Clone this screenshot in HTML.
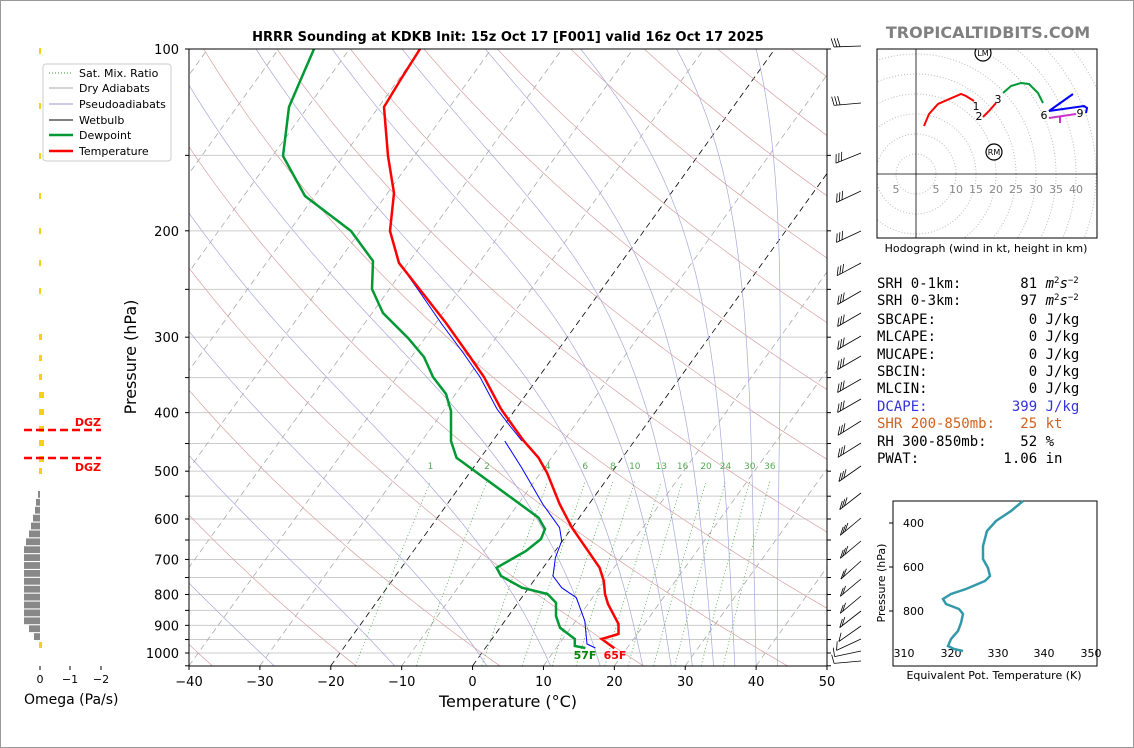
<!DOCTYPE html>
<html><head><meta charset="utf-8"><style>
body{margin:0;background:#fff;}
#w{position:relative;width:1132px;height:746px;border:1px solid #999;overflow:hidden;font-family:"DejaVu Sans","Liberation Sans",sans-serif;}
svg text{font-family:"DejaVu Sans","Liberation Sans",sans-serif;}
svg .mono text{font-family:"DejaVu Sans Mono","Liberation Mono",monospace;font-size:14px;}
</style></head><body><div id="w">
<svg id="s" width="1134" height="748" xmlns="http://www.w3.org/2000/svg">
<defs><clipPath id="cp"><rect x="188" y="48" width="638" height="617"/></clipPath>
<clipPath id="hc"><rect x="876" y="48" width="220" height="189"/></clipPath></defs>
<g id="bg" clip-path="url(#cp)"></g>
<g id="fg" clip-path="url(#cp)"></g>
<rect x="188" y="48" width="638" height="617" fill="none" stroke="#000" stroke-width="1"/>
<g id="ax" font-size="13"></g>
<text x="507" y="40" text-anchor="middle" font-size="13" font-weight="bold">HRRR Sounding at KDKB Init: 15z Oct 17 [F001] valid 16z Oct 17 2025</text>
<text x="507" y="706" text-anchor="middle" font-size="16">Temperature (°C)</text>
<text transform="translate(135,356) rotate(-90)" text-anchor="middle" font-size="16">Pressure (hPa)</text>
<text x="584" y="658" text-anchor="middle" font-size="11" font-weight="bold" fill="#080">57F</text>
<text x="614" y="658" text-anchor="middle" font-size="11" font-weight="bold" fill="#f00">65F</text>
<!-- legend -->
<rect x="42" y="63" width="128" height="97" fill="#fff" stroke="#ccc" rx="3"/>
<line x1="48" y1="72" x2="72" y2="72" stroke="#393" stroke-dasharray="1,2"/>
<line x1="48" y1="87" x2="72" y2="87" stroke="#aaa"/>
<line x1="48" y1="103" x2="72" y2="103" stroke="#99c"/>
<line x1="48" y1="119" x2="72" y2="119" stroke="#000"/>
<line x1="48" y1="134" x2="72" y2="134" stroke="#093" stroke-width="2.5"/>
<line x1="48" y1="150" x2="72" y2="150" stroke="#f00" stroke-width="2.5"/>
<g font-size="11"><text x="78" y="76">Sat. Mix. Ratio</text><text x="78" y="91">Dry Adiabats</text><text x="78" y="107">Pseudoadiabats</text><text x="78" y="123">Wetbulb</text><text x="78" y="138">Dewpoint</text><text x="78" y="154">Temperature</text></g>
<!-- omega -->
<g id="om"></g>
<line x1="23" y1="429" x2="100" y2="429" stroke="#f00" stroke-width="2.5" stroke-dasharray="8,4"/>
<line x1="23" y1="457" x2="100" y2="457" stroke="#f00" stroke-width="2.5" stroke-dasharray="8,4"/>
<text x="100" y="425" text-anchor="end" font-size="11" font-weight="bold" fill="#f00">DGZ</text>
<text x="100" y="470" text-anchor="end" font-size="11" font-weight="bold" fill="#f00">DGZ</text>
<g stroke="#000"><line x1="39" y1="665" x2="39" y2="669"/><line x1="69" y1="665" x2="69" y2="669"/><line x1="100" y1="665" x2="100" y2="669"/></g>
<g font-size="11" text-anchor="middle"><text x="39" y="682">0</text><text x="69" y="682">−1</text><text x="100" y="682">−2</text></g>
<text x="23" y="703" font-size="14">Omega (Pa/s)</text>
<!-- right -->
<text x="987" y="37" text-anchor="middle" font-size="16" font-weight="bold" fill="#808080">TROPICALTIDBITS.COM</text>
<rect x="876" y="48" width="220" height="189" fill="#fff"/>
<g id="ho" clip-path="url(#hc)"></g>
<rect x="876" y="48" width="220" height="189" fill="none" stroke="#000"/>
<text x="985" y="251" text-anchor="middle" font-size="11">Hodograph (wind in kt, height in km)</text>
<g class="mono">
<text x="876" y="287" xml:space="preserve">SRH 0-1km:       81 <tspan font-style="italic">m</tspan><tspan font-size="9" dy="-5">2</tspan><tspan font-style="italic" dy="5">s</tspan><tspan font-size="9" dy="-5">−2</tspan></text>
<text x="876" y="304" xml:space="preserve">SRH 0-3km:       97 <tspan font-style="italic">m</tspan><tspan font-size="9" dy="-5">2</tspan><tspan font-style="italic" dy="5">s</tspan><tspan font-size="9" dy="-5">−2</tspan></text>
<text x="876" y="323" xml:space="preserve">SBCAPE:           0 J/kg</text>
<text x="876" y="340" xml:space="preserve">MLCAPE:           0 J/kg</text>
<text x="876" y="358" xml:space="preserve">MUCAPE:           0 J/kg</text>
<text x="876" y="375" xml:space="preserve">SBCIN:            0 J/kg</text>
<text x="876" y="392" xml:space="preserve">MLCIN:            0 J/kg</text>
<text x="876" y="410" xml:space="preserve" fill="#3333dd">DCAPE:          399 J/kg</text>
<text x="876" y="427" xml:space="preserve" fill="#d2601e">SHR 200-850mb:   25 kt</text>
<text x="876" y="445" xml:space="preserve">RH 300-850mb:    52 %</text>
<text x="876" y="462" xml:space="preserve">PWAT:          1.06 in</text>
</g>
<!-- theta-e -->
<rect x="892" y="500" width="204" height="165" fill="none" stroke="#000"/>
<g font-size="11"><text x="923" y="526" text-anchor="end">400</text><text x="923" y="570" text-anchor="end">600</text><text x="923" y="614" text-anchor="end">800</text>
<line x1="892" y1="522" x2="888" y2="522" stroke="#000"/><line x1="892" y1="566" x2="888" y2="566" stroke="#000"/><line x1="892" y1="610" x2="888" y2="610" stroke="#000"/>
<text x="903" y="656" text-anchor="middle">310</text><text x="950" y="656" text-anchor="middle">320</text><text x="997" y="656" text-anchor="middle">330</text><text x="1043" y="656" text-anchor="middle">340</text><text x="1090" y="656" text-anchor="middle">350</text>
<text x="993" y="678" text-anchor="middle">Equivalent Pot. Temperature (K)</text>
<text transform="translate(884,582) rotate(-90)" text-anchor="middle">Pressure (hPa)</text></g>
<polyline fill="none" stroke="#3399aa" stroke-width="2.5" points="1022,500 1010,510 995,520 986,530 982,545 982,558 987,567 989,575 984,580 965,588 950,593 942,598 945,603 958,608 962,613 960,622 957,630 950,638 947,645 953,648 962,650"/>
</svg></div>
<script>
var NS="http://www.w3.org/2000/svg";
function Y(p){return 48+604*(Math.log10(p)-2);}
function X(T,p){return 188+(T+40)*7.089+0.72*(664.8-Y(p));}
function el(g,t,a){var e=document.createElementNS(NS,t);for(var k in a)e.setAttribute(k,a[k]);document.getElementById(g).appendChild(e);return e;}
function pl(g,pts,a){a.points=pts.map(function(q){return q[0].toFixed(1)+","+q[1].toFixed(1)}).join(" ");a.fill="none";return el(g,"polyline",a);}
var ps=[];for(var p=1050;p>=100;p-=10)ps.push(p);
for(var p=100;p<=1000;p+=50){el("bg","line",{x1:188,x2:826,y1:Y(p),y2:Y(p),stroke:"#ccc","stroke-width":1});}
for(var T=-130;T<=50;T+=10){var c=(T==0||T==-20)?"#000":"#aaa";el("bg","line",{x1:X(T,1050),y1:Y(1050),x2:X(T,100),y2:Y(100),stroke:c,"stroke-width":0.8,"stroke-dasharray":"6,4"});}
for(var th=193.15;th<=593.15;th+=20){var pts=ps.map(function(p){var T=th*Math.pow(p/1000,0.2857)-273.15;return [X(T,p),Y(p)];});pl("bg",pts,{stroke:"#d9a0a0","stroke-width":0.7});}
function es(T){return 6.112*Math.exp(17.67*T/(T+243.5));}
[-45,-28,-11,2,11,18,24,28,31,34,37,40,43].forEach(function(T0){var T=T0+273.15,pts=[],p=1050;while(p>=100){pts.push([X(T-273.15,p),Y(p)]);var e=es(T-273.15),rs=0.622*e/(p-e);var d=(287*T+2.5e6*rs)/(p*(1004+2.5e6*2.5e6*rs*0.622/(287*T*T)));T-=d*5;p-=5;}pl("bg",pts,{stroke:"#a8a8dd","stroke-width":0.7});});
var ws=[1,2,4,6,8,10,13,16,20,24,30,36];ws.forEach(function(w){var pts=[];for(var p=1050;p>=520;p-=10){var e=w*p/(622+w),l=Math.log(e/6.112),Td=243.5*l/(17.67-l);pts.push([X(Td,p),Y(p)]);}pl("bg",pts,{stroke:"#4a4","stroke-width":0.8,"stroke-dasharray":"1,2.5"});var q=pts[pts.length-1];var t=el("fg","text",{x:q[0],y:468,"font-size":9,fill:"#5a5","text-anchor":"middle"});t.textContent=w;});
function P(s){return s.trim().split(/\s+/).map(function(a){return a.split(",").map(Number)});}
pl("fg",P("521,440 509,425 496,408 479,376 463,353 440,322 418,290 398,262"),{stroke:"#00f","stroke-width":1});
pl("fg",P("503.8,440 520.7,466.7 541.7,503 558.6,526.7 560.7,540 554.4,556.7 552,575 560.7,586.7 575.4,596.7 583.8,620 586,643 594.4,647"),{stroke:"#00f","stroke-width":1});
pl("fg",P("313,48 300,78 288,106 282,155 304,195 350,230 372,260 371,288 382,312 407,337 423,356 432,376 445,393 450,410 450,440 455.5,456.7 537.6,516.7 544,528 540,538 525,550 495.6,566.7 500,575 521,586.7 546.5,593 555,601.7 555,615 559,626.7 573.8,638 573.8,645 584.4,647"),{stroke:"#093","stroke-width":2.5});
pl("fg",P("419,48 400,78 383,106 387,155 393,192 389,230 398,262 420,290 445,322 467,353 483,376 500,408 512,425 522.8,440 537.5,456.7 546,471.7 558.6,503 571,526.7 598.6,566.7 602.8,580 604,593 607,603 617.5,623 617.5,633 600.7,638 613.3,647.3"),{stroke:"#f00","stroke-width":2.5});
[100,200,300,400,500,600,700,800,900,1000].forEach(function(p){var t=el("ax","text",{x:178,y:Y(p)+5,"text-anchor":"end"});t.textContent=p;});
for(var p=100;p<=1050;p+=50){el("ax","line",{x1:184,x2:188,y1:Y(p),y2:Y(p),stroke:"#000"});el("ax","line",{x1:826,x2:830,y1:Y(p),y2:Y(p),stroke:"#000"});}
for(var T=-40;T<=50;T+=10){var x=188+(T+40)*7.089;el("ax","line",{x1:x,x2:x,y1:665,y2:669,stroke:"#000"});var t=el("ax","text",{x:x,y:685,"text-anchor":"middle"});t.textContent=(T<0?"−"+(-T):T);}
var B=[[45,2],[102,5],[152,22],[190,25],[230,25],[262,28],[290,30],[312,30],[335,30],[355,30],[378,30],[398,30],[420,32],[442,32],[465,35],[492,38],[517,40],[540,40],[560,42],[578,40],[595,40],[610,38],[625,35],[638,25],[650,12],[660,5]];
B.forEach(function(b){var y=b[0],a=b[1]*Math.PI/180,x1=860,L=27;var x0=x1-L*Math.cos(a),y0=y+L*Math.sin(a);el("ax","line",{x1:x1,y1:y,x2:x0,y2:y0,stroke:"#000","stroke-width":0.8});var n=y<560?3:(y<620?2:1);for(var i=0;i<n;i++){var fx=x0+i*3*Math.cos(a),fy=y0-i*3*Math.sin(a);var fa=a+Math.PI/2.6;el("ax","line",{x1:fx,y1:fy,x2:fx-9*Math.cos(fa),y2:fy-9*Math.sin(fa),stroke:"#000","stroke-width":0.8});}});
var lefts=[37,35,34,32,30,28,25,23,23,23,23,23,23,23,23,23,23,28,33];
lefts.forEach(function(l,i){var y=490+i*7.9;el("om","rect",{x:l,y:y,width:39-l,height:6.8,fill:"#888"});});
[50,105,155,195,230,262,290,336,357,376,394,411,428,442,458,470,644].forEach(function(y){var w=(y>380&&y<460)?5:(y>330?3:2);el("om","rect",{x:38,y:y-3,width:w,height:6,fill:"#f2d21a"});});
for(var r=20;r<=240;r+=20)el("ho","circle",{cx:915,cy:173,r:r,fill:"none",stroke:"#bbb","stroke-dasharray":"1,2"});
el("ho","line",{x1:876,x2:1096,y1:173,y2:173,stroke:"#000","stroke-width":0.8});
el("ho","line",{x1:915,x2:915,y1:48,y2:237,stroke:"#000","stroke-width":0.8});
[["5",895],["5",935],["10",955],["15",975],["20",995],["25",1015],["30",1035],["35",1055],["40",1075]].forEach(function(a){var t=el("ho","text",{x:a[1],y:192,"font-size":11,fill:"#888","text-anchor":"middle"});t.textContent=a[0];});
pl("ho",P("923,125 928,113 937,103 960,93 965,95 973,100"),{stroke:"#f00","stroke-width":2});
pl("ho",P("982,116 988,110 995,102"),{stroke:"#f00","stroke-width":2});
pl("ho",P("1002,92 1010,85 1020,82 1028,83 1037,92 1042,102"),{stroke:"#093","stroke-width":2});
pl("ho",P("1072,93 1048,110 1083,105 1086,107 1085,112"),{stroke:"#00f","stroke-width":2});
pl("ho",P("1048,117 1075,113"),{stroke:"#c3c","stroke-width":2});
el("ho","line",{x1:1059,y1:116,x2:1059,y2:122,stroke:"#c3c","stroke-width":2});
[["1",975,109],["2",978,119],["3",997,102],["6",1043,118],["9",1079,116]].forEach(function(a){var t=el("ho","text",{x:a[1],y:a[2],"font-size":11,"text-anchor":"middle"});t.textContent=a[0];});
[["LM",982,52],["RM",993,151]].forEach(function(a){el("ho","circle",{cx:a[1],cy:a[2],r:8,fill:"#fff",stroke:"#000","stroke-width":1.2});var t=el("ho","text",{x:a[1],y:a[2]+3,"font-size":8,"text-anchor":"middle"});t.textContent=a[0];});
</script>
</body></html>
